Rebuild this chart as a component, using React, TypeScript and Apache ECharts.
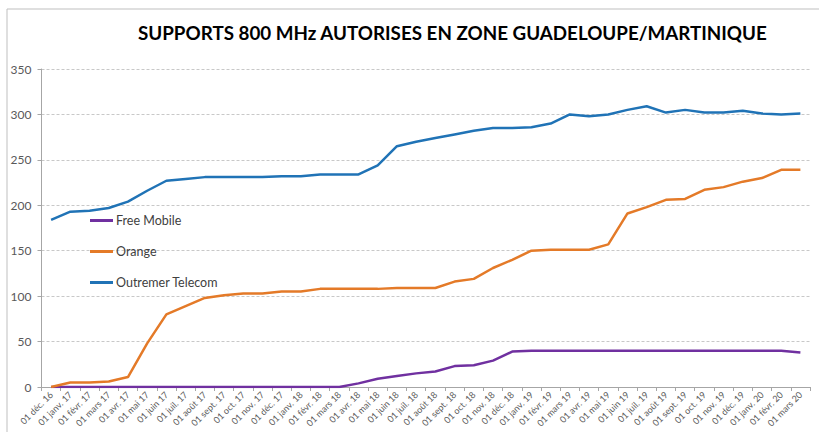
import React, { useEffect, useRef } from "react";
import * as echarts from "echarts";

const categories = [
  "01 déc. 16", "01 janv. 17", "01 févr. 17", "01 mars 17", "01 avr. 17", "01 mai 17",
  "01 juin 17", "01 juil. 17", "01 août 17", "01 sept. 17", "01 oct. 17", "01 nov. 17",
  "01 déc. 17", "01 janv. 18", "01 févr. 18", "01 mars 18", "01 avr. 18", "01 mai 18",
  "01 juin 18", "01 juil. 18", "01 août 18", "01 sept. 18", "01 oct. 18", "01 nov. 18",
  "01 déc. 18", "01 janv. 19", "01 févr. 19", "01 mars 19", "01 avr. 19", "01 mai 19",
  "01 juin 19", "01 juil. 19", "01 août 19", "01 sept. 19", "01 oct. 19", "01 nov. 19",
  "01 déc. 19", "01 janv. 20", "01 févr. 20", "01 mars 20",
];

const freeMobile = [
  0, 0, 0, 0, 0, 0, 0, 0, 0, 0, 0, 0, 0, 0, 0, 0, 4, 9, 12, 15,
  17, 23, 24, 29, 39, 40, 40, 40, 40, 40, 40, 40, 40, 40, 40, 40, 40, 40, 40, 38,
];

const orange = [
  0, 5, 5, 6, 11, 48, 80, 89, 98, 101, 103, 103, 105, 105, 108, 108, 108, 108, 109, 109,
  109, 116, 119, 131, 140, 150, 151, 151, 151, 157, 191, 198, 206, 207, 217, 220, 226, 230, 239, 239,
];

const outremer = [
  184, 193, 194, 197, 204, 216, 227, 229, 231, 231, 231, 231, 232, 232, 234, 234, 234, 244, 265, 270,
  274, 278, 282, 285, 285, 286, 290, 300, 298, 300, 305, 309, 302, 305, 302, 302, 304, 301, 300, 301,
];

const yTicks = { min: 0, max: 350, interval: 50 };

const titleText = "SUPPORTS 800 MHz AUTORISES EN ZONE GUADELOUPE/MARTINIQUE";

export default function App() {
  const ref = useRef<HTMLDivElement>(null);
  useEffect(() => {
    if (!ref.current) return;
    const chart = echarts.init(ref.current, null, { renderer: "svg" });
    const lineSeries = (name: string, data: number[], color: string) => ({
      name,
      type: "line",
      data,
      symbol: "none",
      lineStyle: { width: 2.5, color },
      itemStyle: { color },
    });
    chart.setOption({
      animation: false,
      backgroundColor: "#ffffff",
      title: {
        text: titleText,
        left: 133,
        top: 18,
        textStyle: {
          fontFamily: "Lato",
          fontWeight: "bold",
          fontSize: 18.8,
          color: "#000000",
        },
      },
      graphic: [
        {
          type: "rect",
          shape: { x: 7, y: 9, width: 840, height: 460 },
          style: { fill: "none", stroke: "#BFBFBF", lineWidth: 1 },
          silent: true,
        },
      ],
      legend: {
        orient: "vertical",
        left: 90,
        top: 214,
        padding: 0,
        itemGap: 18,
        icon: "rect",
        itemWidth: 23,
        itemHeight: 3,
        textStyle: { fontFamily: "Lato", fontSize: 12.5, color: "#404040", padding: [0, 0, 0, -2] },
        data: ["Free Mobile", "Orange", "Outremer Telecom"],
      },
      grid: { left: 41.5, right: 9, top: 69, bottom: 45, containLabel: false },
      xAxis: {
        type: "category",
        data: categories,
        boundaryGap: true,
        axisLine: { lineStyle: { color: "#A6A6A6", width: 1 } },
        axisTick: { show: true, length: 4, lineStyle: { color: "#A6A6A6" } },
        axisLabel: {
          interval: 0,
          rotate: 45,
          fontFamily: "Lato",
          fontSize: 9,
          color: "#595959",
          margin: 6,
        },
      },
      yAxis: {
        type: "value",
        min: yTicks.min,
        max: yTicks.max,
        interval: yTicks.interval,
        axisLine: { show: true, lineStyle: { color: "#A6A6A6", width: 1 } },
        axisTick: { show: true, length: 4, lineStyle: { color: "#A6A6A6" } },
        axisLabel: { fontFamily: "Lato", fontSize: 12, color: "#595959", margin: 10 },
        splitLine: { lineStyle: { color: "#C8C8C8", type: [3, 2], width: 1 } },
      },
      series: [
        lineSeries("Free Mobile", freeMobile, "#7030A0"),
        lineSeries("Orange", orange, "#E47A28"),
        lineSeries("Outremer Telecom", outremer, "#2073B6"),
      ],
    });
    return () => chart.dispose();
  }, []);
  return (
    <div
      ref={ref}
      style={{ position: "fixed", left: 0, top: 0, width: 819, height: 432 }}
    />
  );
}
